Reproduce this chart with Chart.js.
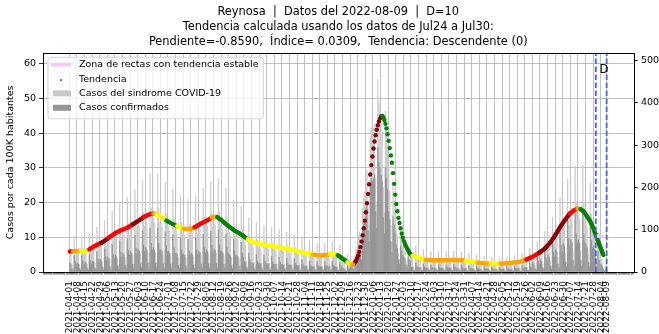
<!DOCTYPE html>
<html><head><meta charset="utf-8">
<script src="https://cdn.jsdelivr.net/npm/chart.js@4.4.0/dist/chart.umd.min.js"></script>
<style>html,body{margin:0;padding:0;background:#fff;}canvas{display:block;}</style>
</head><body>
<canvas id="c" width="659" height="334"></canvas>
<script>
const titleLines = [
  'Reynosa  |  Datos del 2022-08-09  |  D=10',
  'Tendencia calculada usando los datos de Jul24 a Jul30:',
  'Pendiente=-0.8590,  Índice= 0.0309,  Tendencia: Descendente (0)'
];
const yLeftTitle = 'Casos por cada 100K habitantes';
const firstDate = '2021-04-01';
const tickLabels = [
 '2021-04-01','2021-04-08','2021-04-15','2021-04-22','2021-04-29','2021-05-06','2021-05-13','2021-05-20','2021-05-27',
 '2021-06-03','2021-06-10','2021-06-17','2021-06-24','2021-07-01','2021-07-08','2021-07-15','2021-07-22','2021-07-29',
 '2021-08-05','2021-08-12','2021-08-19','2021-08-26','2021-09-02','2021-09-09','2021-09-16','2021-09-23','2021-09-30',
 '2021-10-07','2021-10-14','2021-10-21','2021-10-28','2021-11-04','2021-11-11','2021-11-18','2021-11-25','2021-12-02',
 '2021-12-09','2021-12-16','2021-12-23','2021-12-30','2022-01-06','2022-01-13','2022-01-20','2022-01-27','2022-02-03',
 '2022-02-10','2022-02-17','2022-02-24','2022-03-03','2022-03-10','2022-03-17','2022-03-24','2022-03-31','2022-04-07',
 '2022-04-14','2022-04-21','2022-04-28','2022-05-05','2022-05-12','2022-05-19','2022-05-26','2022-06-02','2022-06-09',
 '2022-06-16','2022-06-23','2022-06-30','2022-07-07','2022-07-14','2022-07-21','2022-07-28','2022-08-04','2022-08-09'
];
const legendLabels = ['Zona de rectas con tendencia estable','Tendencia','Casos del sindrome COVID-19','Casos confirmados'];

// daily bars (one value per day from 2021-04-01), right axis
const casosSindrome = [
 46,42,17,8,84,55,42, 47,43,17,9,86,56,43, 50,45,18,9,90,59,45, 58,53,21,11,106,69,53,
 67,61,24,12,122,79,61, 79,72,29,14,144,94,72, 89,81,32,16,162,105,81, 97,88,35,18,176,114,88,
 107,97,39,19,194,126,97, 119,108,43,22,216,140,108, 128,116,46,23,232,151,116, 128,116,46,23,232,151,116,
 117,106,42,21,212,138,106, 108,98,39,20,196,127,98, 99,90,36,18,180,117,90, 95,86,34,17,172,112,86,
 99,90,36,18,180,117,90, 109,99,40,20,198,129,99, 118,107,43,21,214,139,107, 122,111,44,22,222,144,111,
 109,99,40,20,198,129,99, 94,85,34,17,170,111,85, 86,78,31,16,156,101,78, 70,64,26,13,128,83,64,
 64,58,23,12,116,75,58, 61,55,22,11,110,72,55, 58,53,21,11,106,69,53, 55,50,20,10,100,65,50,
 52,47,19,9,94,61,47, 48,44,18,9,88,57,44, 45,41,16,8,82,53,41, 41,37,15,7,74,48,37,
 37,34,14,7,68,44,34, 37,34,14,7,68,44,34, 40,36,14,7,72,47,36, 35,32,13,6,64,42,32,
 23,21,8,4,42,27,21, 20,22,14,9,40,55,70, 85,95,60,45,150,175,190, 230,240,150,110,320,340,330,
 340,350,220,160,455,400,380, 350,330,200,140,380,340,300, 220,190,110,70,200,170,140, 100,85,45,30,95,75,60,
 55,48,25,17,55,45,40, 34,31,12,6,62,40,31, 30,27,11,5,54,35,27, 26,24,10,5,48,31,24,
 26,24,10,5,48,31,24, 26,24,10,5,48,31,24, 28,25,10,5,50,33,25, 26,24,10,5,48,31,24,
 24,22,9,4,44,29,22, 22,20,8,4,40,26,20, 20,18,7,4,36,23,18, 19,17,7,3,34,22,17,
 18,16,6,3,32,21,16, 20,18,7,4,36,23,18, 21,19,8,4,38,25,19, 24,22,9,4,44,29,22,
 31,28,11,6,56,36,28, 40,36,14,7,72,47,36, 53,48,19,10,96,62,48, 72,65,26,13,130,85,65,
 97,88,35,18,176,114,88, 121,110,44,22,220,143,110, 138,125,50,25,250,163,125, 139,126,50,25,252,164,126,
 116,105,42,21,210,137,105, 110,100,40,20,90,50,35, 30,22,9,4,14,6
];
const casosConfirmados = [
 21,19,8,4,38,25,19, 21,19,8,4,39,25,19, 23,20,8,4,41,27,20, 26,24,9,5,48,31,24,
 30,27,11,5,55,36,27, 36,32,13,6,65,42,32, 40,36,14,7,73,47,36, 44,40,16,8,79,51,40,
 48,44,18,9,87,57,44, 54,49,19,10,97,63,49, 58,52,21,10,104,68,52, 58,52,21,10,104,68,52,
 53,48,19,9,95,62,48, 49,44,18,9,88,57,44, 45,41,16,8,81,53,41, 43,39,15,8,77,50,39,
 45,41,16,8,81,53,41, 49,45,18,9,89,58,45, 53,48,19,9,96,63,48, 55,50,20,10,100,65,50,
 49,45,18,9,89,58,45, 42,38,15,8,77,50,38, 39,35,14,7,70,45,35, 25,22,9,5,45,29,22,
 22,20,8,4,41,26,20, 21,19,8,4,39,25,19, 20,19,7,4,37,24,19, 19,18,7,4,35,23,18,
 18,16,7,3,33,21,16, 17,15,6,3,31,20,15, 16,14,6,3,29,19,14, 14,13,5,2,26,17,13,
 13,12,5,2,24,15,12, 13,12,5,2,24,15,12, 14,13,5,2,25,16,13, 12,11,5,2,22,15,11,
 8,7,3,1,15,9,7, 13,14,9,6,26,36,46, 55,62,39,29,98,114,124, 150,156,98,72,208,221,215,
 221,228,143,104,296,260,247, 228,215,130,91,247,221,195, 143,124,72,46,130,111,91, 65,55,29,20,62,49,39,
 36,31,16,11,36,29,26, 12,11,4,2,22,14,11, 11,9,4,2,19,12,9, 9,8,4,2,17,11,8,
 9,8,4,2,17,11,8, 9,8,4,2,17,11,8, 10,9,4,2,18,12,9, 9,8,4,2,17,11,8,
 8,8,3,1,15,10,8, 8,7,3,1,14,9,7, 7,6,2,1,13,8,6, 7,6,2,1,12,8,6,
 6,6,2,1,11,7,6, 7,6,2,1,13,8,6, 7,7,3,1,13,9,7, 8,8,3,1,15,10,8,
 11,10,4,2,20,13,10, 22,20,8,4,40,26,20, 29,26,10,6,53,34,26, 40,36,14,7,72,47,36,
 53,48,19,10,97,63,48, 67,61,24,12,121,79,61, 76,69,28,14,138,90,69, 76,69,28,14,139,90,69,
 64,58,23,12,116,75,58, 61,55,22,11,50,28,19, 17,12,5,2,8,3
];

// trend (per 100K), smooth stretches drawn as a thick coloured line
const trendDays = [0,3,6,10,14,18,22,26,29,33,36,40,43,47,52,55,58,62,65,68,71,74,77,80,83,86,89,92,95,99,102,105,108,112,115,118,121,125,129,131,134,136,140,144,148,152,156,160,164,170,177,184,191,198,205,212,218,224,230,236,240,244,247,250,253,256,258,260,261];
const trendValues = [5.9,6.0,6.1,6.1,6.0,6.5,7.3,8.0,8.4,9.2,9.9,10.8,11.4,12.0,12.6,13.1,13.7,14.5,15.1,15.8,16.3,16.7,16.8,16.6,16.2,15.5,14.8,14.3,13.8,13.2,12.8,12.5,12.3,12.4,12.9,13.4,14.0,14.6,15.3,15.7,15.9,15.8,14.9,13.8,12.8,11.9,11.2,10.4,9.4,8.5,8.0,7.6,7.2,6.8,6.4,5.9,5.4,5.0,4.8,4.9,5.1,5.2,4.8,4.2,3.5,2.8,2.4,2.2,2.2];
const trendClass = ['R','O','O','Y','Y','R','R','R','D','D','R','R','R','R','R','R','D','D','D','R','R','R','O','Y','Y','Y','G','G','G','Y','Y','O','O','O','R','R','R','R','R','O','O','G','G','G','G','G','G','G','Y','Y','Y','Y','Y','Y','Y','Y','Y','O','O','O','Y','Y','G','G','G','Y','Y','O','O'];
// steep wave: one dot per day
const dotDays = [261,262,263,264,265,266,267,268,269,270,271,272,273,274,275,276,277,278,279,280,281,282,283,284,285,286,287,288,289,290,291,292,293,294,295,296,297,298,299,300,301,302,303,304,305,306,307,308,309,310,311,312,313,314];
const dotValues = [2.2,2.4,2.8,3.3,4.0,4.8,5.8,7.2,8.8,10.6,12.6,14.8,17.2,19.8,22.5,25.3,28.1,30.8,33.3,35.6,37.6,39.4,41.0,42.3,43.4,44.2,44.8,45.0,44.6,43.8,42.7,41.4,39.7,37.8,35.7,33.6,31.5,28.5,25.4,22.3,19.6,17.5,15.6,14.1,12.6,11.1,9.9,8.9,8.1,7.4,6.8,6.2,5.6,5.2];
const dotClass = ['D','D','D','D','D','D','D','D','D','D','D','D','D','D','D','D','D','D','D','D','D','D','D','D','D','D','D','G','G','G','G','G','G','G','G','G','G','G','G','G','G','G','G','G','G','G','G','G','G','G','G','G','G','G'];
const trend2Days = [314,316,320,325,328,335,345,355,362,365,372,376,382,388,394,397,405,412,418,421,426,430,433,437,440,443,446,449,452,455,458,461,465,468,471,474,477,480,483,486,489,492];
const trend2Values = [5.2,4.7,4.3,3.8,3.5,3.4,3.4,3.5,3.4,3.2,3.0,2.7,2.5,2.4,2.3,2.4,2.6,2.8,3.2,3.6,4.3,5.0,5.6,6.5,7.4,8.5,9.8,11.3,12.9,14.3,15.6,16.8,17.8,18.2,18.1,17.4,16.0,14.5,12.4,9.8,7.3,4.9];
const trend2Class = ['G','Y','Y','Y','O','O','O','O','O','Y','Y','O','O','Y','Y','O','O','O','O','R','R','R','D','D','D','D','D','D','D','D','D','R','R','O','G','G','G','G','G','G','G','G'];
const stableDays = [486,492];
const stableValues = [10.4,10.4];
const cutDays = [485,495];

const classColor = {D:'#8b0000',R:'#ff0000',O:'#ffa500',Y:'#ffff00',G:'#008000'};
const FONT = '"DejaVu Sans", sans-serif';

const dayMs = 86400000, t0 = Date.parse(firstDate+'T00:00:00Z');
const dayOf = s => Math.round((Date.parse(s+'T00:00:00Z') - t0)/dayMs);
const labelAt = {};
tickLabels.forEach(l => { labelAt[dayOf(l)] = l; });
const lastDay = casosSindrome.length - 1;
const pad = lastDay*0.05;

const pts = (xs, ys) => xs.map((x,i)=>({x, y: ys[i]}));
const daily = arr => arr.map((v,i)=>({x:i, y:v}));

const decor = {
  id:'decor',
  afterDatasetsDraw(chart){
    const {ctx, chartArea:a, scales} = chart;
    ctx.save();
    ctx.fillStyle = '#000';
    ctx.font = '11.5px '+FONT;
    ctx.textAlign = 'center'; ctx.textBaseline = 'middle';
    ctx.fillText('D', scales.x.getPixelForValue(492.5), scales.y.getPixelForValue(58.3));
    ctx.restore();
  },
  afterDraw(chart){
    const {ctx, chartArea:a} = chart;
    ctx.save();
    ctx.strokeStyle = '#000'; ctx.lineWidth = 1;
    ctx.strokeRect(Math.round(a.left)+0.5, Math.round(a.top)+0.5, Math.round(a.right-a.left), Math.round(a.bottom-a.top));
    // legend box
    const bx = a.left+4.5, by = a.top+4, bw = 215.5, bh = 61.5;
    ctx.beginPath();
    ctx.roundRect(bx+0.5, by+0.5, bw, bh, 3);
    ctx.fillStyle = 'rgba(255,255,255,0.8)'; ctx.fill();
    ctx.strokeStyle = '#d6d6d6'; ctx.stroke();
    const rows = [by+8, by+22.3, by+36.6, by+51];
    const hx = bx+3.5, hw = 20;
    ctx.strokeStyle = '#f7c6f3'; ctx.lineWidth = 3.3;
    ctx.beginPath(); ctx.moveTo(hx, rows[0]); ctx.lineTo(hx+hw, rows[0]); ctx.stroke();
    ctx.fillStyle = '#555';
    ctx.beginPath(); ctx.arc(hx+hw/2, rows[1]+1, 1.1, 0, Math.PI*2); ctx.fill();
    ctx.fillStyle = '#c8c8c8'; ctx.fillRect(hx+2, rows[2]-3, hw-2, 6);
    ctx.fillStyle = '#969696'; ctx.fillRect(hx+2, rows[3]-3, hw-2, 6);
    ctx.fillStyle = '#000'; ctx.font = '9.5px '+FONT; ctx.textAlign='left'; ctx.textBaseline='middle';
    legendLabels.forEach((t,i)=>ctx.fillText(t, bx+31.5, rows[i]));
    ctx.restore();
  }
};

new Chart(document.getElementById('c'), {
  type: 'bar',
  data: {
    datasets: [
      {type:'line', label:'stable', data: pts(stableDays, stableValues), yAxisID:'y', borderColor:'#f7c6f3', borderWidth:3.5, pointRadius:0, order:1},
      {type:'line', label:'cut1', data:[{x:cutDays[0],y:0},{x:cutDays[0],y:70}], yAxisID:'y', borderColor:'#4169e1', borderWidth:1.8, borderDash:[5.5,2.5], pointRadius:0, order:0},
      {type:'line', label:'cut2', data:[{x:cutDays[1],y:0},{x:cutDays[1],y:70}], yAxisID:'y', borderColor:'#4169e1', borderWidth:1.8, borderDash:[5.5,2.5], pointRadius:0, order:0},
      {type:'line', label:'trend1', data: pts(trendDays, trendValues), yAxisID:'y', borderWidth:4.4, borderCapStyle:'round', borderJoinStyle:'round', pointRadius:0,
        segment:{borderColor: c => classColor[trendClass[c.p0DataIndex]]}, borderColor:'#f00', order:2},
      {type:'line', label:'trend2', data: pts(trend2Days, trend2Values), yAxisID:'y', borderWidth:4.4, borderCapStyle:'round', borderJoinStyle:'round', pointRadius:0,
        segment:{borderColor: c => classColor[trend2Class[c.p0DataIndex]]}, borderColor:'#0a0', order:2},
      {type:'line', label:'dots', data: pts(dotDays, dotValues), yAxisID:'y', showLine:false, pointRadius:2.2, pointBorderWidth:0,
        pointBackgroundColor: dotClass.map(k=>classColor[k]), order:2},
      {type:'bar', label: legendLabels[3], data: daily(casosConfirmados), yAxisID:'y2', backgroundColor:'#969696', barThickness:0.6, grouped:false, order:5},
      {type:'bar', label: legendLabels[2], data: daily(casosSindrome), yAxisID:'y2', backgroundColor:'#cccccc', barThickness:0.6, grouped:false, order:6}
    ]
  },
  options: {
    responsive:false, animation:false, devicePixelRatio:1,
    layout:{padding:0},
    plugins:{
      legend:{display:false}, tooltip:{enabled:false},
      title:{display:true, text:titleLines, fullSize:false, color:'#000', font:{family:FONT, size:11.4, weight:'normal', lineHeight:1.33}, padding:{top:4.3,bottom:3}}
    },
    scales:{
      x:{type:'linear', min:-pad, max:lastDay+pad, offset:false,
        afterBuildTicks: s => { const t=[]; for(let d=Math.ceil(-pad); d<=Math.floor(lastDay+pad); d++) t.push({value:d}); s.ticks=t; },
        afterFit: s => { s.height = 62; },
        grid:{color: c => (c.tick && labelAt[c.tick.value]!==undefined) ? '#b0b0b0' : 'rgba(0,0,0,0)', lineWidth:0.8, tickColor:'#333', tickWidth:0.6, tickLength:2.5, drawTicks:true},
        border:{display:false},
        ticks:{autoSkip:false, maxRotation:90, minRotation:90, padding:6.5, color:'#000', font:{family:FONT, size:9},
          callback: v => labelAt[v] || ''}
      },
      y:{position:'left', min:0, max:63.17,
        afterBuildTicks: s => { s.ticks = s.ticks.filter(t => Math.abs(t.value % 10) < 1e-6); },
        afterFit: s => { s.width = 43; },
        grid:{color:'#b0b0b0', lineWidth:0.8, tickColor:'#000', tickLength:4},
        border:{display:false},
        ticks:{stepSize:10, includeBounds:false, padding:3, color:'#000', font:{family:FONT, size:9.5}},
        title:{display:true, text:yLeftTitle, color:'#000', font:{family:FONT, size:9.5}, padding:{top:4.5,bottom:0}}
      },
      y2:{position:'right', min:0, max:518.3,
        afterBuildTicks: s => { s.ticks = s.ticks.filter(t => Math.abs(t.value % 100) < 1e-6); },
        afterFit: s => { s.width = 25.5; },
        grid:{drawOnChartArea:false, tickColor:'#000', tickLength:4},
        border:{display:false},
        ticks:{stepSize:100, includeBounds:false, padding:3.5, color:'#000', font:{family:FONT, size:9.5}}
      }
    }
  },
  plugins:[decor]
});
</script>
</body></html>
